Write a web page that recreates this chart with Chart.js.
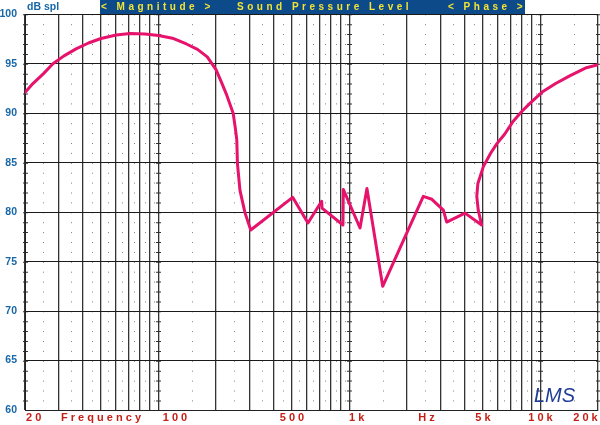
<!DOCTYPE html>
<html>
<head>
<meta charset="utf-8">
<title>Sound Pressure Level</title>
<script src="https://cdn.jsdelivr.net/npm/chart.js@4/dist/chart.umd.min.js"></script>
<style>
  html, body { margin: 0; padding: 0; background: #fff; }
  #wrap { width: 600px; height: 425px; }
</style>
</head>
<body>
<div id="wrap"><canvas id="splChart" width="600" height="425"></canvas></div>
<script>
// response curve: frequency (Hz) and level (dB spl)
const freqs = [20, 22, 25, 28, 32, 37, 43, 50, 60, 71, 85, 100, 120, 140, 160, 180, 200, 214, 228, 246, 252, 257, 259, 267, 284, 304,
  504, 606, 715, 718, 924, 928, 1135, 1234, 1492, 2434, 2700, 3100, 3228, 4024, 4920,
  4720, 4640, 4700, 4850, 5020, 5500, 5900, 6500, 7200, 8000, 8800, 10300, 12000, 14300, 17400, 20000];
const spl = [92.1, 93.0, 94.0, 95.0, 95.8, 96.5, 97.1, 97.55, 97.9, 98.05, 98.0, 97.85, 97.55, 97.0, 96.45, 95.7, 94.4, 93.1, 91.8, 90.0, 88.6, 87.3, 84.9, 82.2, 79.9, 78.2,
  81.5, 78.9, 81.1, 80.4, 78.7, 82.3, 78.4, 82.4, 72.5, 81.6, 81.3, 80.2, 79.0, 79.9, 78.7,
  80.2, 81.6, 82.9, 83.7, 84.6, 86.0, 86.9, 87.9, 89.2, 90.2, 91.0, 92.2, 93.0, 93.8, 94.6, 94.9];

// grid lines and the dotted columns between them
const gridFreqs = [20, 30, 40, 50, 60, 70, 80, 90, 100, 200, 300, 400, 500, 600, 700, 800, 900,
  1000, 2000, 3000, 4000, 5000, 6000, 7000, 8000, 9000, 10000, 20000];
const dotFreqs = [25, 35, 45, 55, 65, 75, 85, 95, 150, 250, 350, 450, 550, 650, 750, 850, 950,
  1500, 2500, 3500, 4500, 5500, 6500, 7500, 8500, 9500, 15000];
const markFreqs = [20, 100, 1000, 10000, 20000];

// bottom labels (where they sit on the frequency axis)
const labelFreqs = [22.2, 50, 122, 500, 1090, 2530, 5000, 10000, 17200];
const labelTexts = ['2 0', 'F r e q u e n c y', '1 0 0', '5 0 0', '1 k', 'H z', '5 k', '1 0 k', '2 0 k'];

const yMin = 60, yMax = 100;

const blue = '#1767a8';
const red = '#c41f16';
const font = '"Liberation Sans", Arial, Helvetica, sans-serif';

const headerPlugin = {
  id: 'header',
  afterDraw(chart) {
    const ctx = chart.ctx;
    ctx.save();
    ctx.fillStyle = '#0c4a8a';
    ctx.fillRect(100, 0, 425, 14);
    ctx.font = 'bold 10.5px ' + font;
    ctx.textBaseline = 'middle';
    ctx.fillStyle = blue;
    ctx.fillText('dB spl', 27, 7);
    ctx.font = 'bold 10px ' + font;
    ctx.letterSpacing = '3.5px';
    ctx.fillStyle = '#f3e334';
    ctx.fillText('< Magnitude >', 101, 7.5);
    ctx.fillText('Sound Pressure Level', 237, 7.5);
    ctx.fillText('< Phase >', 448, 7.5);
    ctx.letterSpacing = '0px';
    ctx.font = 'italic 20px ' + font;
    ctx.fillStyle = '#1f3c96';
    ctx.fillText('LMS', 534, 396);
    ctx.restore();
  }
};

// every tick value once: grid lines plus label positions
const xTickValues = Array.from(new Set(gridFreqs.concat(labelFreqs))).sort((a, b) => a - b);

const ctx = document.getElementById('splChart').getContext('2d');
const splChart = new Chart(ctx, {
  type: 'line',
  data: {
    datasets: [{
      data: freqs.map((f, i) => ({ x: f, y: spl[i] })),
      borderColor: '#e6126b',
      borderWidth: 3,
      pointRadius: 0,
      tension: 0,
      borderJoinStyle: 'round',
      borderCapStyle: 'round',
      fill: false
    }]
  },
  options: {
    responsive: false,
    animation: false,
    layout: { padding: { top: 14, right: 2, left: 0, bottom: 0 } },
    plugins: { legend: { display: false }, tooltip: { enabled: false } },
    scales: {
      x: {
        type: 'logarithmic',
        position: 'bottom',
        min: 20,
        max: 20000,
        afterBuildTicks: s => { s.ticks = xTickValues.map(v => ({ value: v })); },
        afterFit: s => { s.height = 15; },
        grid: {
          color: c => gridFreqs.includes(c.tick.value) ? '#333' : 'rgba(0,0,0,0)',
          lineWidth: 1.3,
          drawTicks: false
        },
        border: { color: '#222' },
        ticks: {
          autoSkip: false,
          maxRotation: 0,
          padding: 1,
          color: red,
          font: { family: font, size: 11, weight: 'bold' },
          callback: v => {
            const i = labelFreqs.indexOf(v);
            return i < 0 ? '' : labelTexts[i];
          }
        }
      },
      xDots: {
        type: 'logarithmic',
        position: 'bottom',
        min: 20,
        max: 20000,
        afterBuildTicks: s => { s.ticks = dotFreqs.map(v => ({ value: v })); },
        afterFit: s => { s.height = 0; },
        ticks: { display: false },
        grid: { color: '#808080', lineWidth: 1, drawTicks: false },
        border: { display: false, dash: [1, 8.9] }
      },
      xMarks: {
        type: 'logarithmic',
        position: 'bottom',
        min: 20,
        max: 20000,
        afterBuildTicks: s => { s.ticks = markFreqs.map(v => ({ value: v })); },
        afterFit: s => { s.height = 0; },
        ticks: { display: false },
        grid: { color: '#333', lineWidth: 5, drawTicks: false },
        border: { display: false, dash: [1, 8.9] }
      },
      y: {
        min: yMin,
        max: yMax,
        afterFit: s => { s.width = 25; },
        grid: {
          color: c => c.tick.value % 5 === 0 ? '#1a1a1a' : 'rgba(0,0,0,0)',
          lineWidth: 1,
          drawTicks: false
        },
        border: { color: '#222' },
        ticks: {
          stepSize: 1,
          autoSkip: false,
          padding: 8,
          color: blue,
          font: { family: font, size: 10.5, weight: 'bold' },
          callback: v => v % 5 === 0 ? v : ''
        }
      }
    }
  },
  plugins: [headerPlugin]
});
</script>
</body>
</html>
